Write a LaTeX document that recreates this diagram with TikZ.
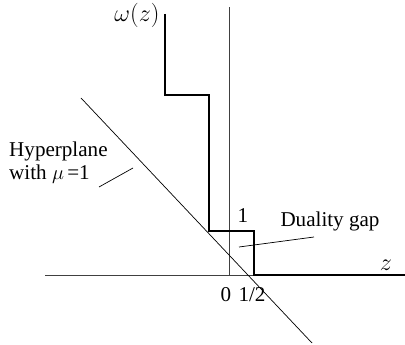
\documentclass[tikz,border=0pt]{standalone}
\usepackage{fontspec}
\setmainfont{Liberation Serif}
\usepackage{tikz}
\usetikzlibrary{positioning}

\tikzset{
    axis/.style={draw=black!75, line width=0.7pt},
    thinline/.style={draw, line width=0.6pt},
    stepline/.style={draw, line width=1.4pt},
    lbl/.style={inner sep=0pt, font=\fontsize{18}{19.5}\selectfont},
    mathlbl/.style={inner sep=0pt, font=\fontsize{20.5}{22}\selectfont}
}

\begin{document}
\begin{tikzpicture}[x=0.03cm, y=0.03cm]
    \useasboundingbox (0,0) rectangle (405,344);

    % Axes
    \coordinate (xstart) at (45,69);
    \coordinate (xend) at (405,69);
    \coordinate (ystart) at (229,69);
    \coordinate (yend) at (229,337);
    \draw[axis] (xstart) -- (xend);
    \draw[axis] (ystart) -- (yend);

    % Primal function
    \draw[stepline] (165,330) -- (165,249) -- (209,249) -- (209,113) -- (254,113) -- (254,69) -- (405,69);

    % Hyperplane
    \coordinate (hstart) at (81,246);
    \coordinate (hend) at (312,1);
    \draw[thinline] (hstart) -- (hend);

    % Labels
    \node[mathlbl] (omega) at (137,329) {$\omega(z)$};
    \node[mathlbl] (zlabel) at (386,79) {$z$};
    \node[lbl] (zero) at (226,49) {0};
    \node[lbl] (half) at (252,49) {1/2};
    \node[lbl] (one) at (243,128) {1};
    \node[lbl, align=left, anchor=west] (hyper) at (9,181) {Hyperplane\\with $\mu\,$=1};
    \node[lbl] (gap) at (330,123) {Duality gap};

    % Leaders
    \coordinate (hyperfoot) at (99,157);
    \coordinate (hypertip) at (133,176);
    \coordinate (gapfoot) at (314,107);
    \coordinate (gaptip) at (239,97);
    \draw[thinline] (hyperfoot) -- (hypertip);
    \draw[thinline] (gapfoot) -- (gaptip);
\end{tikzpicture}
\end{document}
